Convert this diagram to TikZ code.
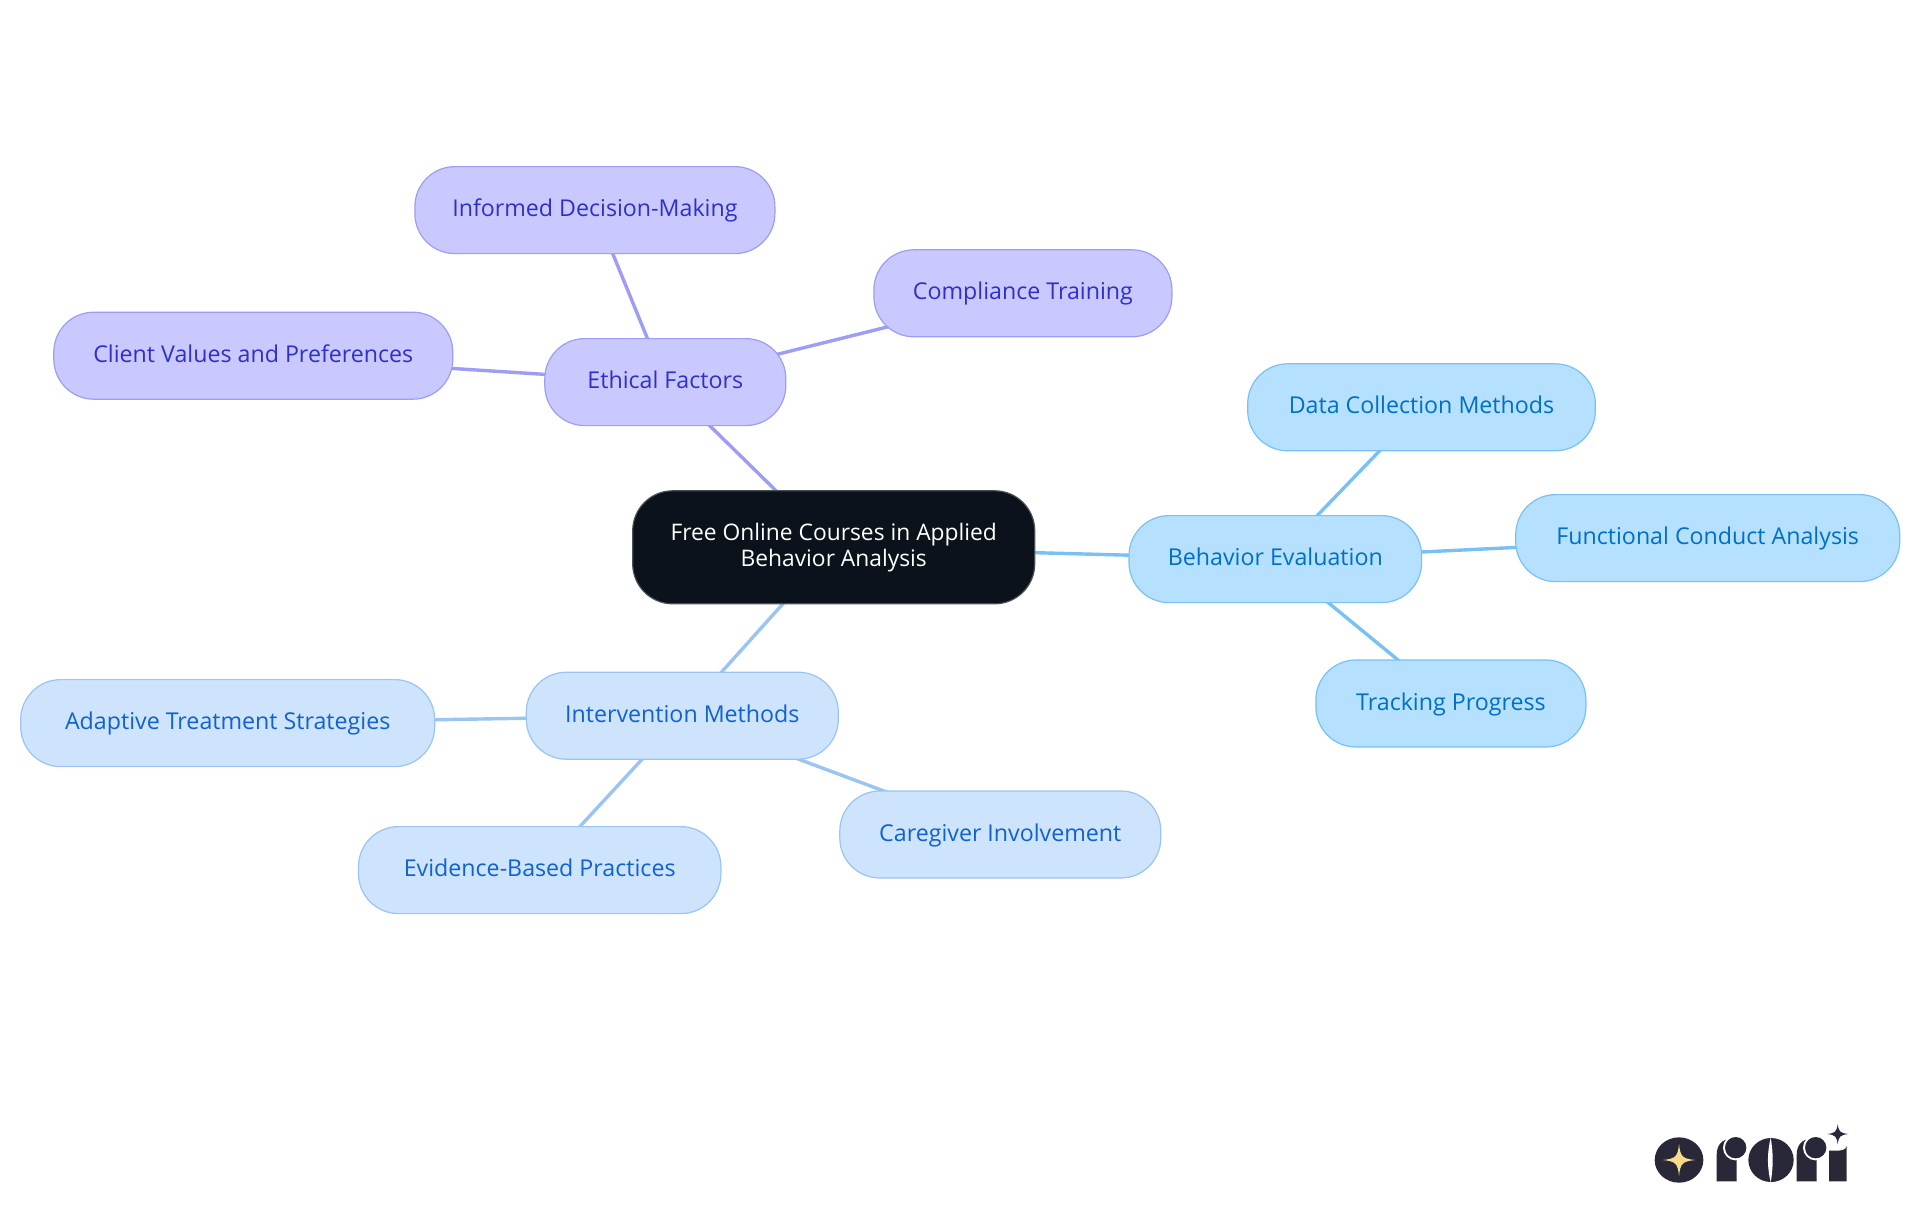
\documentclass[tikz,border=0pt]{standalone}
\usepackage{xcolor}
\usepackage{fontspec}
\setmainfont{Open Sans}
\usepackage{tikz}
\usetikzlibrary{positioning,backgrounds}

\definecolor{rootfill}{HTML}{0B121B}
\definecolor{rootline}{HTML}{4A4F55}
\definecolor{purplefill}{HTML}{C9C9FF}
\definecolor{purpleline}{HTML}{9D9DF5}
\definecolor{purpletext}{HTML}{3030C9}
\definecolor{skyfill}{HTML}{B5E0FF}
\definecolor{skyline}{HTML}{78C1F2}
\definecolor{skytext}{HTML}{0070C4}
\definecolor{bluefill}{HTML}{CEE3FC}
\definecolor{blueline}{HTML}{99C4F3}
\definecolor{bluetext}{HTML}{0F62CF}
\definecolor{logodark}{HTML}{292838}
\definecolor{logogold}{HTML}{FBD98A}

\tikzset{
    mapbox/.style={rectangle, draw, line width=0.6pt, rounded corners=20pt, minimum height=43.5pt, align=center, font=\fontsize{11.4pt}{12.9pt}\selectfont},
    rootbox/.style={mapbox, fill=rootfill, draw=rootline, text=white, minimum height=56.5pt, minimum width=201pt},
    leafbox/.style={mapbox, text height=9.5pt, text depth=3pt, font=\fontsize{11.6pt}{12.9pt}\selectfont},
    purplebox/.style={leafbox, fill=purplefill, draw=purpleline, text=purpletext},
    skybox/.style={leafbox, fill=skyfill, draw=skyline, text=skytext},
    bluebox/.style={leafbox, fill=bluefill, draw=blueline, text=bluetext},
    purpleedge/.style={draw=purpleline, line width=1.7pt},
    skyedge/.style={draw=skyline, line width=1.7pt},
    blueedge/.style={draw=blueline, line width=1.7pt}
}

\begin{document}
\begin{tikzpicture}[x=0.5pt, y=-0.5pt, on grid]
    \useasboundingbox (0,0) rectangle (1920,1215);

    \node (root) [rootbox] at (833.7,547.3) {Free Online Courses in Applied\\Behavior Analysis};

    \node (ethical) [purplebox, minimum width=120.5pt, above left=82.6pt and 84.2pt of root] {Ethical Factors};
    \node (informed) [purplebox, minimum width=180pt, above left=86pt and 35.2pt of ethical] {Informed Decision-Making};
    \node (compliance) [purplebox, minimum width=149pt, above right=44.4pt and 178.8pt of ethical] {Compliance Training};
    \node (client) [purplebox, minimum width=199.5pt, above left=13.2pt and 206pt of ethical] {Client Values and Preferences};

    \node (behavior) [skybox, minimum width=146.3pt, below right=5.9pt and 220.8pt of root] {Behavior Evaluation};
    \node (collection) [skybox, minimum width=173.8pt, above right=75.9pt and 73.1pt of behavior] {Data Collection Methods};
    \node (functional) [skybox, minimum width=192pt, above right=10.5pt and 216.2pt of behavior] {Functional Conduct Analysis};
    \node (tracking) [skybox, minimum width=135pt, below right=72.2pt and 87.8pt of behavior] {Tracking Progress};

    \node (intervention) [bluebox, minimum width=156pt, below left=84.2pt and 75.7pt of root] {Intervention Methods};
    \node (adaptive) [bluebox, minimum width=207pt, below left=3.7pt and 227.3pt of intervention] {Adaptive Treatment Strategies};
    \node (evidence) [bluebox, minimum width=181.2pt, below left=77.2pt and 71.3pt of intervention] {Evidence-Based Practices};
    \node (caregiver) [bluebox, minimum width=160.5pt, below right=59.4pt and 159pt of intervention] {Caregiver Involvement};

    \begin{scope}[on background layer]
        \draw [purpleedge] (root.center) -- (ethical.center);
        \draw [purpleedge] (ethical.center) -- (informed.center);
        \draw [purpleedge] (ethical.center) -- (compliance.center);
        \draw [purpleedge] (ethical.center) -- (client.center);
        \draw [skyedge] (root.center) -- (behavior.center);
        \draw [skyedge] (behavior.center) -- (collection.center);
        \draw [skyedge] (behavior.center) -- (functional.center);
        \draw [skyedge] (behavior.center) -- (tracking.center);
        \draw [blueedge] (root.center) -- (intervention.center);
        \draw [blueedge] (intervention.center) -- (adaptive.center);
        \draw [blueedge] (intervention.center) -- (evidence.center);
        \draw [blueedge] (intervention.center) -- (caregiver.center);
    \end{scope}

    % logo
    \begin{scope}[shift={(1620,1100)}, x=0.16667pt, y=-0.16667pt]
        \fill [logodark] (177,180) ellipse [x radius=73, y radius=68];
        \fill [logogold] (177,132) .. controls (181,170) and (187,176) .. (226,180) .. controls (187,184) and (181,190) .. (177,228) .. controls (173,190) and (167,184) .. (128,180) .. controls (167,176) and (173,170) .. (177,132) -- cycle;
        \foreach \xoff in {0,240} {
            \fill [logodark] (290+\xoff,244) -- (290+\xoff,165) .. controls (290+\xoff,135) and (305+\xoff,118) .. (335+\xoff,115) -- (350+\xoff,115) -- (350+\xoff,244) -- cycle;
            \fill [white] (347+\xoff,143) circle [radius=38];
            \fill [logodark] (347+\xoff,143) circle [radius=32];
        }
        \fill [logodark] (453,180) ellipse [x radius=68, y radius=66];
        \fill [white] (452,113) .. controls (441,160) and (441,200) .. (452,247) .. controls (460,200) and (460,160) .. (452,113) -- cycle;
        \fill [logodark] (627,244) -- (627,152) -- (645,152) .. controls (665,152) and (678,150) .. (680,138) -- (680,244) -- cycle;
        \fill [logodark] (653,72) .. controls (656,95) and (660,99) .. (685,102) .. controls (660,105) and (656,109) .. (653,133) .. controls (650,109) and (646,105) .. (622,102) .. controls (646,99) and (650,95) .. (653,72) -- cycle;
    \end{scope}
\end{tikzpicture}
\end{document}
